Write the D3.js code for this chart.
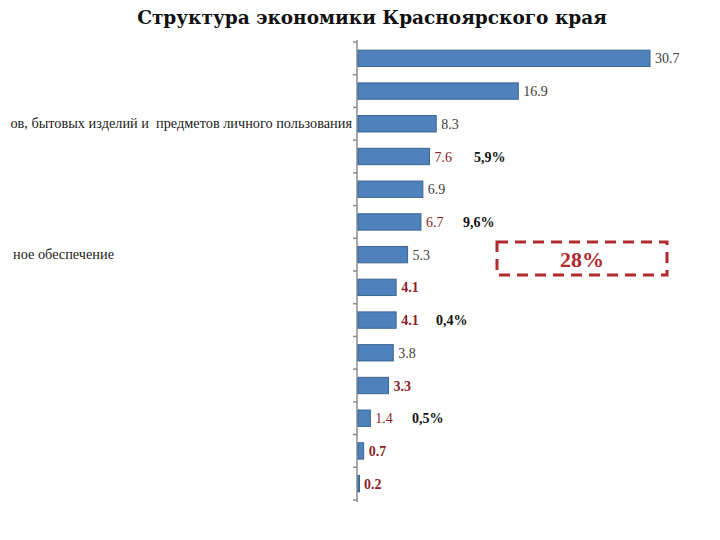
<!DOCTYPE html>
<html><head><meta charset="utf-8">
<script src="https://cdn.jsdelivr.net/npm/d3@7"></script>
<style>body{margin:0;background:#fff}svg{display:block}text{white-space:pre}</style>
</head><body>
<svg id="c" width="720" height="540"></svg>
<script>
const title = "Структура экономики Красноярского края";
const categories = ["c1","c2","c3","c4","c5","c6","c7","c8","c9","c10","c11","c12","c13","c14"];
const categoryLabels = ["", "", "ов, бытовых изделий и  предметов личного пользования", "", "", "", "ное обеспечение", "", "", "", "", "", "", ""];
const values = [30.7, 16.9, 8.3, 7.6, 6.9, 6.7, 5.3, 4.1, 4.1, 3.8, 3.3, 1.4, 0.7, 0.2];
const highlighted = [false,false,false,true,false,true,false,true,true,false,true,true,true,true];
const boldLabel =   [false,false,false,false,false,false,false,true,true,false,true,false,true,true];
const notes = [{cat:"c4", text:"5,9%", dx:117}, {cat:"c6", text:"9,6%", dx:106}, {cat:"c9", text:"0,4%", dx:79}, {cat:"c12", text:"0,5%", dx:55}];
const boxText = "28%";

const serif = "'Liberation Serif', 'Times New Roman', Times, serif";
const svg = d3.select("#c");
const x0 = 357;
const x = d3.scaleLinear().domain([0, 30.7]).range([x0, 650]);
const y = d3.scaleBand().domain(categories).range([42, 500]).paddingInner(0.5).paddingOuter(0.25);
const step = y.step();

svg.append("text").attr("x", 372).attr("y", 24).attr("text-anchor", "middle")
  .attr("font-family", "'DejaVu Serif', serif").attr("font-weight", "bold").attr("font-size", 18.5)
  .attr("fill", "#111").text(title);

// axis
const ax = svg.append("g").attr("stroke", "#8c8c8c").attr("stroke-width", 1.5);
ax.append("line").attr("x1", x0).attr("x2", x0).attr("y1", 40).attr("y2", 502);
const tickYs = categories.map(c => y(c) - step * 0.25).concat([y(categories[categories.length-1]) + y.bandwidth() + step*0.25]);
tickYs.forEach(t => ax.append("line").attr("x1", x0 - 4).attr("x2", x0).attr("y1", t).attr("y2", t));

// bars
svg.append("g").selectAll("rect").data(categories).join("rect")
  .attr("x", x0 + 1).attr("y", c => y(c))
  .attr("width", (c, i) => Math.max(1.5, x(values[i]) - x0 - 1))
  .attr("height", y.bandwidth())
  .attr("fill", "#4f81bd").attr("stroke", "#3a6591").attr("stroke-width", 1);

// value labels
svg.append("g").selectAll("text").data(categories).join("text")
  .attr("x", (c, i) => x(values[i]) + 5)
  .attr("y", c => y(c) + y.bandwidth() / 2 + 5)
  .style("font-family", serif).attr("font-size", 14)
  .attr("font-weight", (c, i) => boldLabel[i] ? "bold" : "normal")
  .attr("fill", (c, i) => highlighted[i] ? "#8b1c28" : "#404040")
  .text((c, i) => values[i].toFixed(1));

// category labels
svg.append("g").selectAll("text").data(categories).join("text")
  .attr("x", (c, i) => i === 6 ? 13 : x0 - 5)
  .attr("text-anchor", (c, i) => i === 6 ? "start" : "end")
  .attr("y", c => y(c) + y.bandwidth() / 2 + 4)
  .style("font-family", serif).attr("font-size", 14.3).attr("fill", "#222")
  .text((c, i) => categoryLabels[i]);

// notes
svg.append("g").selectAll("text").data(notes).join("text")
  .attr("x", d => x0 + d.dx).attr("y", d => y(d.cat) + y.bandwidth() / 2 + 5)
  .style("font-family", serif).attr("font-weight", "bold").attr("font-size", 14)
  .attr("fill", "#111").text(d => d.text);

// dashed box
svg.append("rect").attr("x", 497).attr("y", 242).attr("width", 170).attr("height", 33)
  .attr("fill", "none").attr("stroke", "#b02a30").attr("stroke-width", 3).attr("stroke-dasharray", "11,7");
svg.append("text").attr("x", 582).attr("y", 267).attr("text-anchor", "middle")
  .style("font-family", serif).attr("font-weight", "bold").attr("font-size", 22)
  .attr("fill", "#b02a30").text(boxText);
</script>
</body></html>
